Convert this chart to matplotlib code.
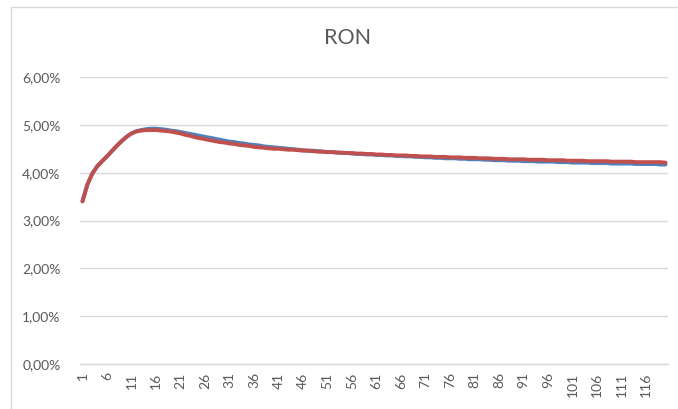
import matplotlib
matplotlib.use("Agg")
import matplotlib.pyplot as plt
from matplotlib.patches import Rectangle
from matplotlib.ticker import FuncFormatter, MultipleLocator

# Maturity index (1..120)
periods = list(range(1, 121))

# Rates in percent
series_blue = [
    3.40, 3.75, 3.98, 4.13, 4.24, 4.34, 4.45, 4.56, 4.66, 4.75,
    4.82, 4.87, 4.89, 4.91, 4.92, 4.92, 4.91, 4.90, 4.88, 4.87,
    4.85, 4.83, 4.81, 4.79, 4.77, 4.75, 4.73, 4.71, 4.69, 4.67,
    4.65, 4.64, 4.62, 4.61, 4.59, 4.58, 4.57, 4.55, 4.54, 4.53,
    4.52, 4.51, 4.50, 4.49, 4.48, 4.47, 4.46, 4.46, 4.45, 4.44,
    4.43, 4.43, 4.42, 4.41, 4.41, 4.40, 4.39, 4.39, 4.38, 4.38,
    4.37, 4.37, 4.36, 4.36, 4.35, 4.35, 4.34, 4.34, 4.33, 4.33,
    4.32, 4.32, 4.31, 4.31, 4.30, 4.30, 4.30, 4.29, 4.29, 4.28,
    4.28, 4.28, 4.27, 4.27, 4.26, 4.26, 4.26, 4.25, 4.25, 4.25,
    4.24, 4.24, 4.24, 4.23, 4.23, 4.23, 4.23, 4.22, 4.22, 4.22,
    4.21, 4.21, 4.21, 4.21, 4.20, 4.20, 4.20, 4.20, 4.19, 4.19,
    4.19, 4.19, 4.19, 4.18, 4.18, 4.18, 4.18, 4.18, 4.17, 4.17,
]

series_red = [
    3.40, 3.75, 3.98, 4.13, 4.24, 4.34, 4.45, 4.56, 4.66, 4.75,
    4.82, 4.86, 4.88, 4.89, 4.89, 4.89, 4.88, 4.87, 4.86, 4.84,
    4.82, 4.79, 4.77, 4.74, 4.72, 4.70, 4.68, 4.66, 4.64, 4.63,
    4.61, 4.60, 4.58, 4.57, 4.56, 4.54, 4.53, 4.52, 4.51, 4.50,
    4.50, 4.49, 4.48, 4.48, 4.47, 4.46, 4.46, 4.45, 4.44, 4.44,
    4.43, 4.43, 4.42, 4.42, 4.41, 4.41, 4.40, 4.40, 4.39, 4.39,
    4.38, 4.38, 4.37, 4.37, 4.36, 4.36, 4.36, 4.35, 4.35, 4.34,
    4.34, 4.34, 4.33, 4.33, 4.33, 4.32, 4.32, 4.32, 4.31, 4.31,
    4.31, 4.30, 4.30, 4.30, 4.29, 4.29, 4.29, 4.28, 4.28, 4.28,
    4.28, 4.27, 4.27, 4.27, 4.27, 4.26, 4.26, 4.26, 4.26, 4.25,
    4.25, 4.25, 4.25, 4.24, 4.24, 4.24, 4.24, 4.24, 4.23, 4.23,
    4.23, 4.23, 4.23, 4.22, 4.22, 4.22, 4.22, 4.22, 4.22, 4.21,
]

title_text = "RON"
x_tick_labels = [str(p) for p in periods[::5]]

TEXT = "#595959"
GRID = "#D9D9D9"

plt.rcParams["font.family"] = ["Lato", "DejaVu Sans"]

fig = plt.figure(figsize=(6.78, 4.09), dpi=100)
fig.patch.set_facecolor("white")

# chart frame
W, H = 678, 409
fig.patches.append(Rectangle((11 / W, -0.05), 1.2, (H - 7) / H + 0.05,
                             transform=fig.transFigure, fill=False,
                             edgecolor=GRID, linewidth=1.0, zorder=0))

ax = fig.add_axes([80 / W, (H - 364) / H, 588 / W, 287 / H])

ax.plot(periods, series_blue, color="#4F81BD", linewidth=2.8,
        solid_capstyle="round", solid_joinstyle="round", zorder=3)
ax.plot(periods, series_red, color="#C0504D", linewidth=2.8,
        solid_capstyle="round", solid_joinstyle="round", zorder=4)

ax.set_xlim(0.5, 120.5)
ax.set_ylim(0, 6)
ax.yaxis.set_major_locator(MultipleLocator(1))
ax.yaxis.set_major_formatter(FuncFormatter(lambda v, _: f"{v:.2f}%".replace(".", ",")))
ax.grid(axis="y", color=GRID, linewidth=1.0)
ax.set_axisbelow(True)

ax.set_xticks(periods[::5])
ax.set_xticklabels(x_tick_labels, rotation=90)

for side in ("top", "right", "left"):
    ax.spines[side].set_visible(False)
ax.spines["bottom"].set_color(GRID)
ax.spines["bottom"].set_linewidth(1.0)

ax.tick_params(axis="both", length=0, colors=TEXT, labelsize=10)
ax.tick_params(axis="y", pad=14)
ax.tick_params(axis="x", pad=6)

fig.text(348 / W, 1 - 38 / H, title_text, ha="center", va="center",
         fontsize=15.5, color=TEXT)

fig.savefig("out.png", dpi=100, facecolor="white")
